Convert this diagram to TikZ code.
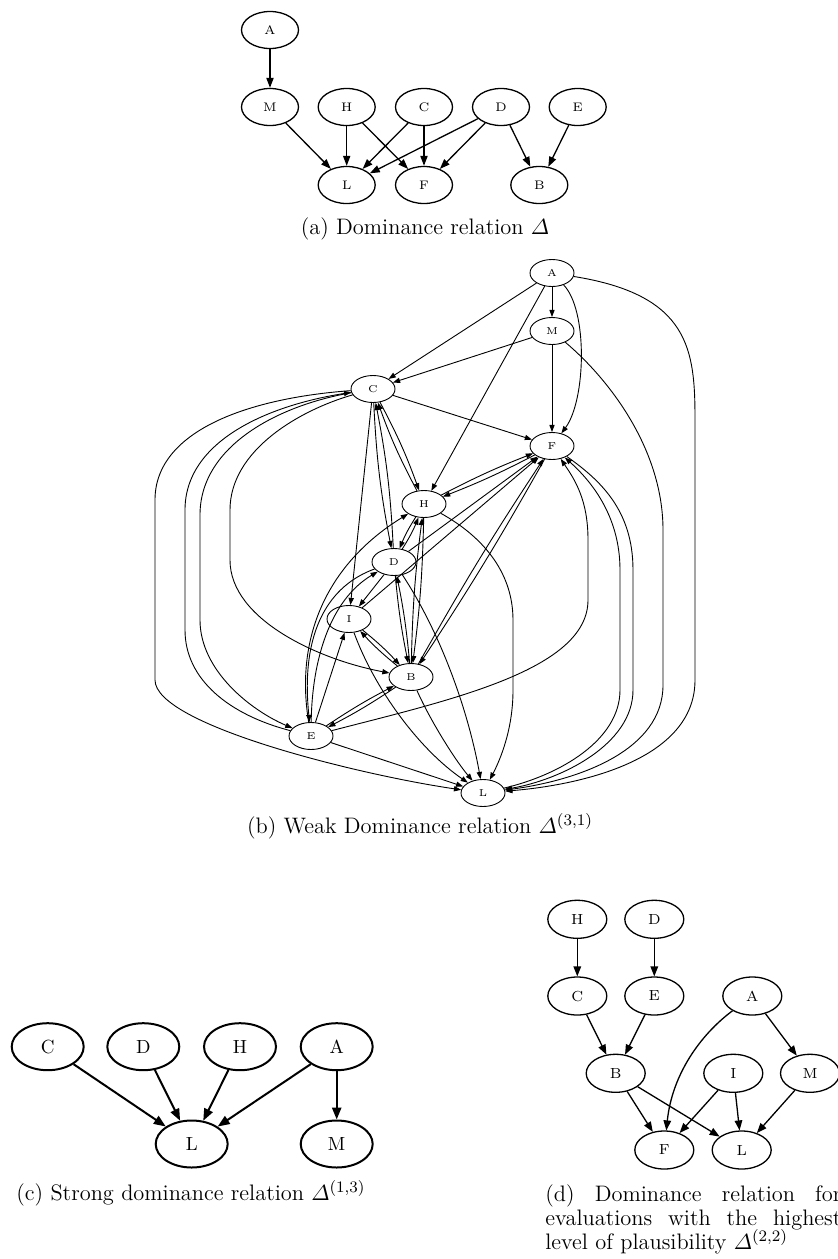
\documentclass[tikz,border=0pt]{standalone}
\usepackage{amsmath}
\usetikzlibrary{shapes.geometric,arrows.meta}

\tikzset{
  na/.style={ellipse, draw, line width=0.65pt, minimum width=28.5pt, minimum height=18.5pt, inner sep=0pt, font=\fontsize{6.2}{7}\selectfont},
  ea/.style={-{Triangle[length=5pt,width=3.6pt]}, line width=0.65pt},
  nb/.style={ellipse, draw, line width=0.45pt, minimum width=22pt, minimum height=13.5pt, inner sep=0pt, font=\fontsize{5}{6}\selectfont},
  eb/.style={-{Triangle[length=3.6pt,width=2.6pt]}, line width=0.45pt},
  nc/.style={ellipse, draw, line width=1pt, minimum width=36pt, minimum height=23.5pt, inner sep=0pt, font=\fontsize{9.5}{11}\selectfont},
  ec/.style={-{Triangle[length=6pt,width=4.6pt]}, line width=1pt},
  nd/.style={ellipse, draw, line width=0.65pt, minimum width=29.5pt, minimum height=19pt, inner sep=0pt, font=\fontsize{7.3}{8}\selectfont},
  ed/.style={-{Triangle[length=5pt,width=3.8pt]}, line width=0.65pt},
  captext/.style={anchor=base, inner sep=0pt, font=\fontsize{11.2}{12}\selectfont},
}

\begin{document}
\begin{tikzpicture}[x=0.5pt,y=-0.5pt]
\useasboundingbox (0,0) rectangle (838,1259);

% ---------------- (a) dominance relation ----------------
\node[na] (aA) at (270,30) {A};
\node[na] (aM) at (270,107) {M};
\node[na] (aH) at (346.7,107) {H};
\node[na] (aC) at (424,107) {C};
\node[na] (aD) at (501,107) {D};
\node[na] (aE) at (577.7,107) {E};
\node[na] (aL) at (346.7,185) {L};
\node[na] (aF) at (424,185) {F};
\node[na] (aB) at (539.3,185) {B};
\draw[ea] (aA) -- (aM);
\draw[ea] (aM) -- (aL);
\draw[ea] (aH) -- (aL);
\draw[ea] (aH) -- (aF);
\draw[ea] (aC) -- (aL);
\draw[ea] (aC) -- (aF);
\draw[ea] (aD) -- (aL);
\draw[ea] (aD) -- (aF);
\draw[ea] (aD) -- (aB);
\draw[ea] (aE) -- (aB);
\node[captext] (capa) at (425,234) {(a) Dominance relation $\varDelta$};

% ---------------- (b) weak dominance relation ----------------
\node[nb] (bA) at (552,273) {A};
\node[nb] (bM) at (552,331) {M};
\node[nb] (bC) at (373,389) {C};
\node[nb] (bF) at (552,446) {F};
\node[nb] (bH) at (424,504) {H};
\node[nb] (bD) at (394,562) {D};
\node[nb] (bI) at (349,619) {I};
\node[nb] (bB) at (411,677) {B};
\node[nb] (bE) at (311,736) {E};
\node[nb] (bL) at (483,793) {L};

% from A
\draw[eb] (bA) -- (bM);
\draw[eb] (bA) -- (bC);
\draw[eb] (bA) -- (bH);
\draw[eb] (bA) .. controls (588,310) and (586,400) .. (bF);
\draw[eb] (bA) .. controls (690,295) and (695,350) .. (695,420) -- (695,680) .. controls (695,760) and (580,785) .. (bL);
% from M
\draw[eb] (bM) -- (bC);
\draw[eb] (bM) -- (bF);
\draw[eb] (bM) .. controls (610,380) and (663,450) .. (663,530) -- (663,685) .. controls (663,750) and (580,780) .. (bL);
% from C
\draw[eb] (bC) -- (bF);
\draw[eb] (bC) -- (bI);
\draw[eb] (bC) to[bend right=4] (bD);
\draw[eb] (bD) to[bend right=4] (bC);
\draw[eb] (bC) to[bend left=4] (bH);
\draw[eb] (bH) to[bend left=4] (bC);
\draw[eb] (bC) .. controls (250,398) and (155,430) .. (155,500) -- (155,680) .. controls (155,725) and (360,775) .. (bL);
\draw[eb] (bE) .. controls (230,715) and (185,680) .. (185,630) -- (185,510) .. controls (185,440) and (270,405) .. (bC);
\draw[eb] (bC) .. controls (280,405) and (200,445) .. (200,515) -- (200,620) .. controls (200,670) and (250,710) .. (bE);
\draw[eb] (bC) .. controls (300,410) and (230,450) .. (230,510) -- (230,560) .. controls (230,620) and (320,660) .. (bB);
% from H
\draw[eb] (bH) to[bend left=3] (bF);
\draw[eb] (bF) to[bend left=3] (bH);
\draw[eb] (bH) to[bend right=5] (bD);
\draw[eb] (bD) to[bend right=5] (bH);
\draw[eb] (bH) to[bend left=3] (bB);
\draw[eb] (bB) to[bend left=3] (bH);
\draw[eb] (bH) .. controls (480,535) and (513,570) .. (513,620) -- (513,690) .. controls (513,730) and (500,760) .. (bL);
% from F
\draw[eb] (bF) to[bend left=2] (bB);
\draw[eb] (bB) to[bend left=2] (bF);
\draw[eb] (bF) .. controls (600,480) and (633,510) .. (633,570) -- (633,690) .. controls (633,745) and (560,780) .. (bL);
\draw[eb] (bL) .. controls (560,775) and (620,740) .. (620,690) -- (620,570) .. controls (620,515) and (590,480) .. (bF);
% from D
\draw[eb] (bD) -- (bI);
\draw[eb] (bD) to[bend right=3] (bB);
\draw[eb] (bB) to[bend right=3] (bD);
\draw[eb] (bD) -- (bF);
\draw[eb] (bD) .. controls (445,640) and (470,720) .. (bL);
\draw[eb] (bD) .. controls (330,585) and (300,630) .. (bE);
\draw[eb] (bE) .. controls (312,660) and (330,600) .. (bD);
% from I
\draw[eb] (bI) -- (bF);
\draw[eb] (bI) to[bend left=4] (bB);
\draw[eb] (bB) to[bend left=4] (bI);
\draw[eb] (bI) .. controls (375,690) and (420,750) .. (bL);
% from E
\draw[eb] (bE) .. controls (295,640) and (325,565) .. (bH);
\draw[eb] (bE) -- (bI);
\draw[eb] (bE) to[bend left=3] (bB);
\draw[eb] (bB) to[bend left=3] (bE);
\draw[eb] (bE) -- (bL);
\draw[eb] (bE) .. controls (450,700) and (588,670) .. (588,600) -- (588,540) .. controls (588,500) and (575,480) .. (bF);
% from B
\draw[eb] (bB) .. controls (430,720) and (455,760) .. (bL);

\node[captext] (capb) at (420,833) {(b) Weak Dominance relation $\varDelta^{(3,1)}$};

% ---------------- (c) strong dominance relation ----------------
\node[nc] (cC) at (47.7,1046.7) {C};
\node[nc] (cD) at (143.3,1046.7) {D};
\node[nc] (cH) at (240,1046.7) {H};
\node[nc] (cA) at (336.7,1046.7) {A};
\node[nc] (cL) at (191.7,1144) {L};
\node[nc] (cM) at (336.7,1144) {M};
\draw[ec] (cC) -- (cL);
\draw[ec] (cD) -- (cL);
\draw[ec] (cH) -- (cL);
\draw[ec] (cA) -- (cL);
\draw[ec] (cA) -- (cM);
\node[captext] (capc) at (191,1200) {(c) Strong dominance relation $\varDelta^{(1,3)}$};

% ---------------- (d) highest plausibility ----------------
\node[nd] (dH) at (577.3,919.3) {H};
\node[nd] (dD) at (654.3,919.3) {D};
\node[nd] (dC) at (577.3,996) {C};
\node[nd] (dE) at (654.3,996) {E};
\node[nd] (dA) at (752.3,996) {A};
\node[nd] (dB) at (615.7,1073.3) {B};
\node[nd] (dI) at (733.3,1073.3) {I};
\node[nd] (dM) at (810,1073.3) {M};
\node[nd] (dF) at (664.3,1150) {F};
\node[nd] (dL) at (741.7,1150) {L};
\draw[ed] (dH) -- (dC);
\draw[ed] (dD) -- (dE);
\draw[ed] (dC) -- (dB);
\draw[ed] (dE) -- (dB);
\draw[ed] (dA) .. controls (700,1035) and (672,1075) .. (dF);
\draw[ed] (dA) -- (dM);
\draw[ed] (dB) -- (dF);
\draw[ed] (dB) -- (dL);
\draw[ed] (dI) -- (dF);
\draw[ed] (dI) -- (dL);
\draw[ed] (dM) -- (dL);
\node[captext, anchor=base west] (capd1) at (545,1201) {\makebox[148pt][s]{(d) Dominance relation for}};
\node[captext, anchor=base west] (capd2) at (545,1225) {\makebox[148pt][s]{evaluations with the highest}};
\node[captext, anchor=base west] (capd3) at (545,1249) {level of plausibility $\varDelta^{(2,2)}$};
\end{tikzpicture}
\end{document}
